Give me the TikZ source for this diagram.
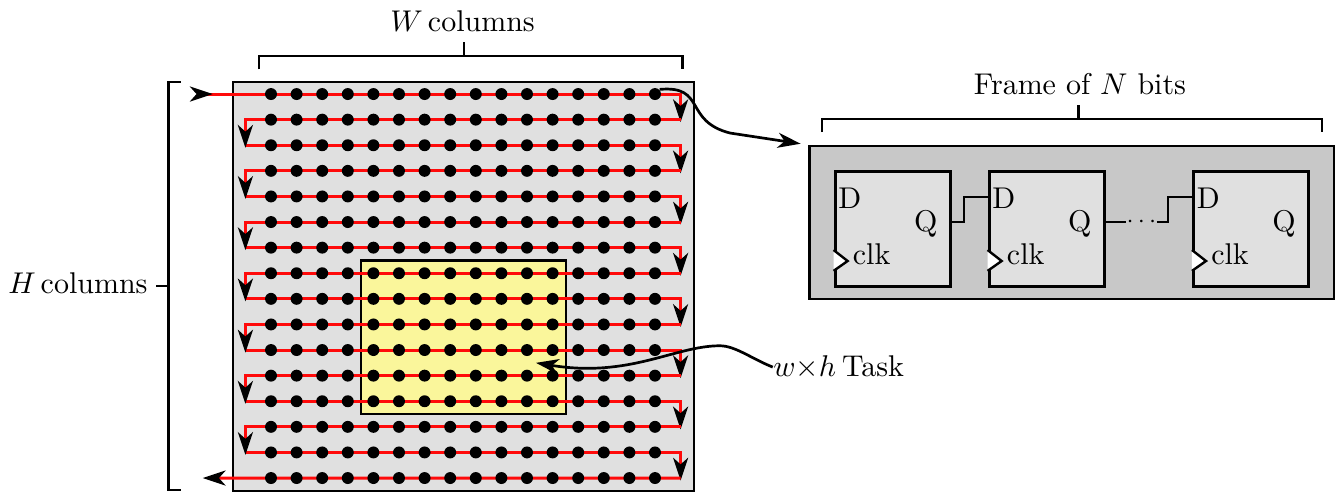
\documentclass[tikz,border=0pt]{standalone}
\usepackage{tikz}
\usepackage{xcolor}
\usetikzlibrary{arrows.meta, positioning, calc}
\definecolor{GridGray}{RGB}{224,224,224}
\definecolor{FrameGray}{RGB}{200,200,200}
\definecolor{TaskYellow}{RGB}{250,246,155}
\definecolor{WireRed}{RGB}{255,10,10}
\tikzset{
  dot/.style={circle,fill=black,inner sep=0pt,minimum size=0.14cm},
  flipflop/.style={draw,line width=1pt,fill=GridGray,minimum width=1.35cm,minimum height=1.35cm,inner sep=0pt},
  scan/.style={WireRed,line width=1pt,shorten >=-0.03cm,-{Stealth[black,length=7.6pt,width=5pt,inset=2.2pt]}},
  brace/.style={black,line width=0.9pt},
  wire/.style={black,line width=0.8pt},
  pointer/.style={black,line width=0.9pt,-{Stealth[length=7.6pt,width=5pt,inset=2.2pt]}},
  ffclock/.style={draw,thick,fill=white}
}
\begin{document}
\begin{tikzpicture}
        \useasboundingbox (-3.176,1.102) rectangle (12.469,-4.652);
        \fill[GridGray] (-0.445,0.14) rectangle (4.957,-4.65);
        \draw[thick] (-0.445,0.14) rectangle (4.957,-4.65);
        \draw[thick,fill=TaskYellow] (1.055,-1.95) rectangle (3.455,-3.75);
        \foreach \r in {0,...,15}{
          \coordinate (lft-\r) at (-0.3,{-0.3*\r});
          \coordinate (rgt-\r) at (4.8,{-0.3*\r});
        }
        \coordinate (start) at (-0.95,0);
        \coordinate (exit) at (-0.8,-4.5);
        \draw[WireRed,line width=1pt,{Stealth[black,reversed,length=7.6pt,width=5pt,inset=2.2pt]}-] (start) -- (rgt-0);
        \foreach \a/\b in {0/1,2/3,4/5,6/7,8/9,10/11,12/13,14/15}{\draw[scan] (lft-\a) -- (rgt-\a) -- (rgt-\b);}
        \foreach \a/\b in {1/2,3/4,5/6,7/8,9/10,11/12,13/14}{\draw[scan] (rgt-\a) -- (lft-\a) -- (lft-\b);}
        \draw[scan,shorten >=0pt] (rgt-15) -- (exit);
        \foreach \r in {0,...,15}{
          \foreach \c in {0,...,15}{\node[dot] (d-\r-\c) at ({0.3*\c},{-0.3*\r}) {};}
        }
        \coordinate (wl) at (-0.14,0.29);
        \coordinate (wr) at (4.82,0.29);
        \coordinate (wm) at (2.26,0.445);
        \node[above=0.02cm of wm,yshift=0.14cm,xshift=-0.015cm] (wlabel) {$W$\hspace{0.17em}columns};
        \draw[brace] (wl) |- (wm) -| (wr);
        \draw[brace] (wm) -- (wm|-wlabel.south);
        \coordinate (ht) at (-1.055,0.14);
        \coordinate (hb) at (-1.055,-4.64);
        \coordinate (hm) at (-1.2,-2.25);
        \node[left=0.1cm of hm,xshift=-0.14cm,yshift=0.03cm,inner sep=0pt] (hlabel) {$H$\hspace{0.17em}columns};
        \draw[brace] (ht) -| (hm|-hb) -- (hb);
        \draw[brace] (hm) -- (-1.345,-2.25);
        \node[draw,thick,fill=FrameGray,minimum width=6.155cm,minimum height=1.79cm,inner sep=0pt] (frame) at (9.387,-1.505) {};
        \foreach \n/\x in {ffa/7.285,ffb/9.09,ffc/11.485}{
          \node[flipflop] (\n) at (\x,-1.58) {};
          \node[anchor=base west,inner sep=0pt] (\n-d) at ([shift={(0.05,-0.457)}]\n.north west) {D};
          \node[anchor=base,inner sep=0pt] (\n-q) at ([shift={(1.08,-0.727)}]\n.north west) {Q};
          \node[anchor=base west,inner sep=0pt] (\n-clk) at ([shift={(0.22,-1.11)}]\n.north west) {clk};
          \draw[ffclock] ([yshift=0.445cm]\n.south west) -- ([shift={(0.165,0.316)}]\n.south west) -- ([yshift=0.2cm]\n.south west);
        }
        \coordinate (fl) at (6.457,-0.445);
        \coordinate (fr) at (12.317,-0.445);
        \coordinate (fm) at (9.46,-0.293);
        \node[above=0.02cm of fm,yshift=0.14cm,xshift=0.02cm] (flabel) {Frame of $N$ bits};
        \draw[brace] (fl) |- (fm) -| (fr);
        \draw[brace] (fm) -- (fm|-flabel.south);
        \draw[wire] (ffa.east|-0,-1.5) -| (8.12,-1.207) -- (ffb.west|-0,-1.207);
        \node[inner sep=0pt,font=\footnotesize] (gap) at (10.2,-1.5) {$\cdots$};
        \draw[wire] (ffb.east|-0,-1.5) -- (gap.west);
        \draw[wire] (gap.east) -| (10.51,-1.207) -- (ffc.west|-0,-1.207);
        \node[anchor=west,inner sep=0pt] (task) at (5.88,-3.2) {$w{\times}h$\hspace{0.2em}Task};
        \coordinate (bendA) at (5.38,-0.457);
        \coordinate (bendB) at (5.26,-2.95);
        \coordinate (taskpt) at (3.105,-3.15);
        \draw[pointer,shorten >=0.09cm] (d-0-15.north east) .. controls +(0.55,0.05) and +(-0.55,0.14) .. (bendA) -- (frame.north west);
        \draw[pointer] (task.west) .. controls +(-0.25,0.1) and +(0.18,0) .. (bendB) .. controls +(-0.53,0) and +(1.1,-0.18) .. (taskpt);
      \end{tikzpicture}
\end{document}
